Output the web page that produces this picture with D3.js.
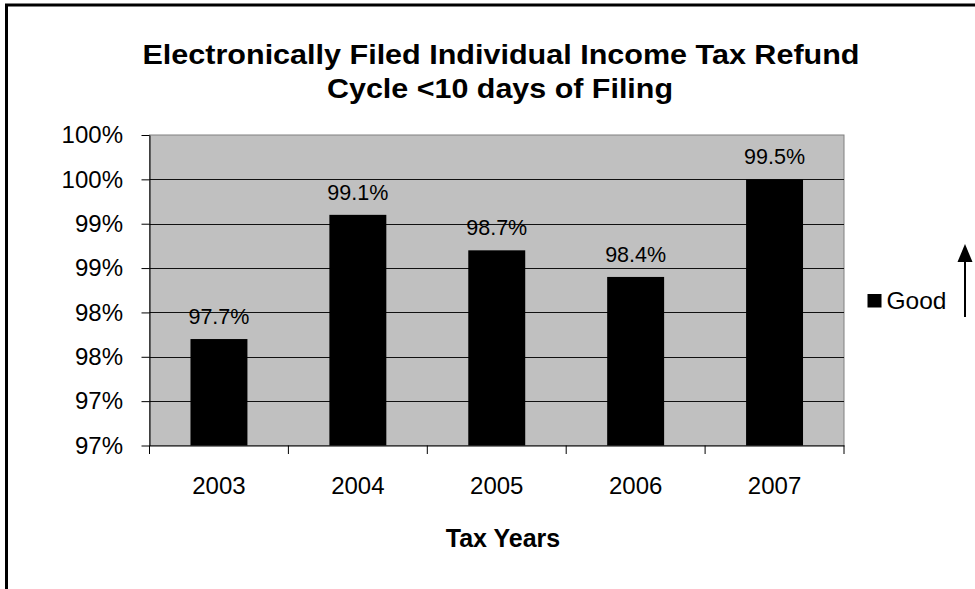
<!DOCTYPE html>
<html>
<head>
<meta charset="utf-8">
<script src="https://cdn.jsdelivr.net/npm/d3@7"></script>
<style>
  html, body { margin: 0; padding: 0; background: #fff; }
  svg { display: block; font-family: "Liberation Sans", Arial, sans-serif; }
</style>
</head>
<body>
<svg id="chart" width="975" height="589"></svg>
<script>
// ---- data ----
const categories = ["2003", "2004", "2005", "2006", "2007"];
const values = [97.7, 99.1, 98.7, 98.4, 99.5];
const valueLabels = ["97.7%", "99.1%", "98.7%", "98.4%", "99.5%"];
const yTickValues = [96.5, 97, 97.5, 98, 98.5, 99, 99.5, 100];
const yTickLabels = ["97%", "97%", "98%", "98%", "99%", "99%", "100%", "100%"];
const yDomain = [96.5, 100];
const titleLines = ["Electronically Filed Individual Income Tax Refund", "Cycle <10 days of Filing"];
const xTitle = "Tax Years";
const seriesName = "Good";

// ---- layout ----
const svg = d3.select("#chart");
const plot = { left: 149.5, right: 844, top: 135, bottom: 445.5 };

// frame (top and left edges of the embedded chart box)
svg.append("path")
  .attr("d", `M6.5,589 L6.5,5 L975,5`)
  .attr("fill", "none").attr("stroke", "#000").attr("stroke-width", 3);

// title
const title = svg.append("text").attr("text-anchor", "middle")
  .attr("font-weight", "bold").attr("font-size", 27).attr("fill", "#000");
title.append("tspan").attr("x", 501).attr("y", 64).text(titleLines[0])
  .attr("textLength", 717).attr("lengthAdjust", "spacingAndGlyphs");
title.append("tspan").attr("x", 500).attr("y", 98).text(titleLines[1])
  .attr("textLength", 346).attr("lengthAdjust", "spacingAndGlyphs");

// scales
const x = d3.scaleBand().domain(categories)
  .range([plot.left, plot.right]).paddingInner(0.59).paddingOuter(0.295);
const y = d3.scaleLinear().domain(yDomain).range([plot.bottom, plot.top]);

// plot background
svg.append("rect")
  .attr("x", plot.left).attr("y", plot.top)
  .attr("width", plot.right - plot.left).attr("height", plot.bottom - plot.top)
  .attr("fill", "#c0c0c0").attr("stroke", "#808080").attr("stroke-width", 1);

// gridlines
svg.append("g").selectAll("line")
  .data(yTickValues.filter(v => v > yDomain[0] && v < yDomain[1]))
  .join("line")
  .attr("x1", plot.left).attr("x2", plot.right)
  .attr("y1", d => Math.round(y(d)) + 0.5).attr("y2", d => Math.round(y(d)) + 0.5)
  .attr("stroke", "#111").attr("stroke-width", 1);

// bars
svg.append("g").selectAll("rect")
  .data(values)
  .join("rect")
  .attr("x", (d, i) => x(categories[i]))
  .attr("y", d => y(d))
  .attr("width", x.bandwidth())
  .attr("height", d => plot.bottom - y(d))
  .attr("fill", "#000");

// data labels
svg.append("g").selectAll("text")
  .data(values)
  .join("text")
  .attr("x", (d, i) => x(categories[i]) + x.bandwidth() / 2)
  .attr("y", d => y(d) - 15)
  .attr("text-anchor", "middle")
  .attr("font-size", 21.5)
  .attr("fill", "#000")
  .text((d, i) => valueLabels[i]);

// y axis
const yAxis = d3.axisLeft(y)
  .tickValues(yTickValues)
  .tickFormat((d, i) => yTickLabels[i])
  .tickSize(8).tickSizeOuter(0).tickPadding(18.5);
const gy = svg.append("g").attr("transform", `translate(${plot.left},0)`).call(yAxis);
gy.selectAll("text").attr("font-size", 24).attr("font-family", "Liberation Sans, Arial, sans-serif").attr("fill", "#000");
gy.selectAll("line, path").attr("stroke", "#000");

// x axis (labels at category centres)
const xAxis = d3.axisBottom(x).tickSize(0).tickSizeOuter(0).tickPadding(31.5);
const gx = svg.append("g").attr("transform", `translate(0,${plot.bottom})`).call(xAxis);
gx.selectAll("text").attr("font-size", 24).attr("font-family", "Liberation Sans, Arial, sans-serif").attr("fill", "#000");
gx.select(".domain").attr("stroke", "#000");

// x tick marks at category boundaries
const half = (x.step() - x.bandwidth()) / 2;
const bounds = categories.map(c => x(c) - half).concat([plot.right]);
svg.append("g").selectAll("line")
  .data(bounds)
  .join("line")
  .attr("x1", d => d).attr("x2", d => d)
  .attr("y1", plot.bottom).attr("y2", plot.bottom + 8.5)
  .attr("stroke", "#000");

// x axis title
svg.append("text")
  .attr("x", 503).attr("y", 546.5)
  .attr("text-anchor", "middle")
  .attr("font-weight", "bold").attr("font-size", 25)
  .attr("fill", "#000").text(xTitle);

// legend
const lg = svg.append("g");
lg.append("rect").attr("x", 867.5).attr("y", 294).attr("width", 14).attr("height", 13.5).attr("fill", "#000");
lg.append("text").attr("x", 886.5).attr("y", 309).attr("font-size", 24.5).attr("fill", "#000").text(seriesName);

// upward arrow
svg.append("line").attr("x1", 965).attr("x2", 965).attr("y1", 317).attr("y2", 258)
  .attr("stroke", "#000").attr("stroke-width", 2);
svg.append("path").attr("d", "M965,244 L957.5,262 L972.5,262 Z").attr("fill", "#000");
</script>
</body>
</html>
